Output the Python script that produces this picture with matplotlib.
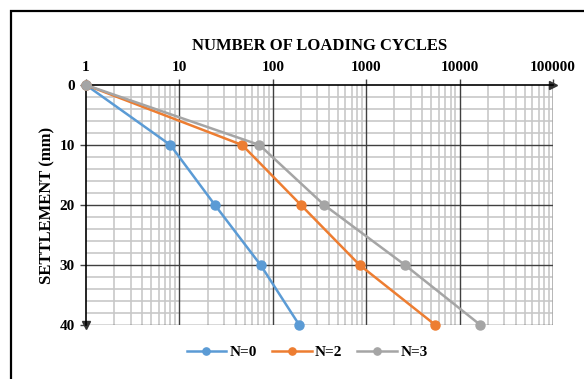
import matplotlib
matplotlib.use("Agg")
import matplotlib.pyplot as plt
from matplotlib.patches import Rectangle
from matplotlib.ticker import FixedLocator, NullFormatter

# settlement levels (mm) and cycles needed to reach them
settlement = [0, 10, 20, 30, 40]
cycles_n0 = [1, 8, 24, 74, 192]
cycles_n2 = [1, 47, 200, 850, 5500]
cycles_n3 = [1, 72, 355, 2600, 16700]

series_labels = ["N=0", "N=2", "N=3"]
colors = ["#5B9BD5", "#ED7D31", "#A5A5A5"]

x_ticks = [1, 10, 100, 1000, 10000, 100000]
x_ticklabels = ["1", "10", "100", "1000", "10000", "100000"]
y_ticks = [0, 10, 20, 30, 40]

plt.rcParams["font.family"] = ["Liberation Serif", "DejaVu Serif"]
plt.rcParams["font.weight"] = "bold"

fig = plt.figure(figsize=(5.84, 3.79), dpi=100)
ax = fig.add_axes([86 / 584, 1 - 325 / 379, 467 / 584, 240 / 379])

# outer frame (only top/left visible in the crop)
fig.add_artist(Rectangle((11 / 584, -0.2), 1.2, 1.2 - 11 / 379,
                         transform=fig.transFigure, fill=False,
                         edgecolor="black", lw=1.6))

for cyc, lab, col in zip([cycles_n0, cycles_n2, cycles_n3], series_labels, colors):
    ax.plot(cyc, settlement, color=col, lw=1.8, marker="o", markersize=6.5,
            label=lab, zorder=3, clip_on=False)

ax.set_xscale("log")
ax.set_xlim(1, 100000)
ax.set_ylim(40, 0)

ax.xaxis.tick_top()
ax.xaxis.set_label_position("top")
ax.xaxis.set_major_locator(FixedLocator(x_ticks))
ax.set_xticklabels(x_ticklabels)
ax.xaxis.set_minor_formatter(NullFormatter())
ax.set_yticks(y_ticks)
ax.set_yticks(range(0, 41, 2), minor=True)

ax.tick_params(axis="both", which="major", labelsize=11, length=4, width=1,
               color="#404040", pad=4)
ax.tick_params(axis="both", which="minor", length=0)

# light minor grid underneath, darker major lines on top of it
ax.grid(which="minor", color="#c8c8c8", lw=1.2)
ax.set_axisbelow(True)
for xv in x_ticks[1:-1]:
    ax.axvline(xv, color="#404040", lw=1.0, zorder=1)
ax.axvline(x_ticks[-1], color="#aaaaaa", lw=1.2, zorder=1)
for yv in y_ticks[1:]:
    ax.axhline(yv, color="#404040", lw=1.0, zorder=1)

for side in ["right", "bottom"]:
    ax.spines[side].set_visible(False)
ax.spines["top"].set_linewidth(1.2)
ax.spines["left"].set_linewidth(1.2)

# arrow heads on the axes
ax.plot([1], [1], marker=">", color="#333333", markersize=6,
        transform=ax.transAxes, clip_on=False)
ax.plot([0], [0], marker="v", color="#333333", markersize=6,
        transform=ax.transAxes, clip_on=False)

ax.set_xlabel("NUMBER OF LOADING CYCLES", fontsize=12, fontweight="bold", labelpad=8)
ax.set_ylabel("SETTLEMENT (mm)", fontsize=12, fontweight="bold", labelpad=3)

fig.legend(loc="center", bbox_to_anchor=(307 / 584, 1 - 352 / 379), ncol=3,
           frameon=False, fontsize=11, handlelength=2.6, columnspacing=1.0,
           handletextpad=0.2, markerscale=0.8)

fig.savefig("out.png", dpi=100)
